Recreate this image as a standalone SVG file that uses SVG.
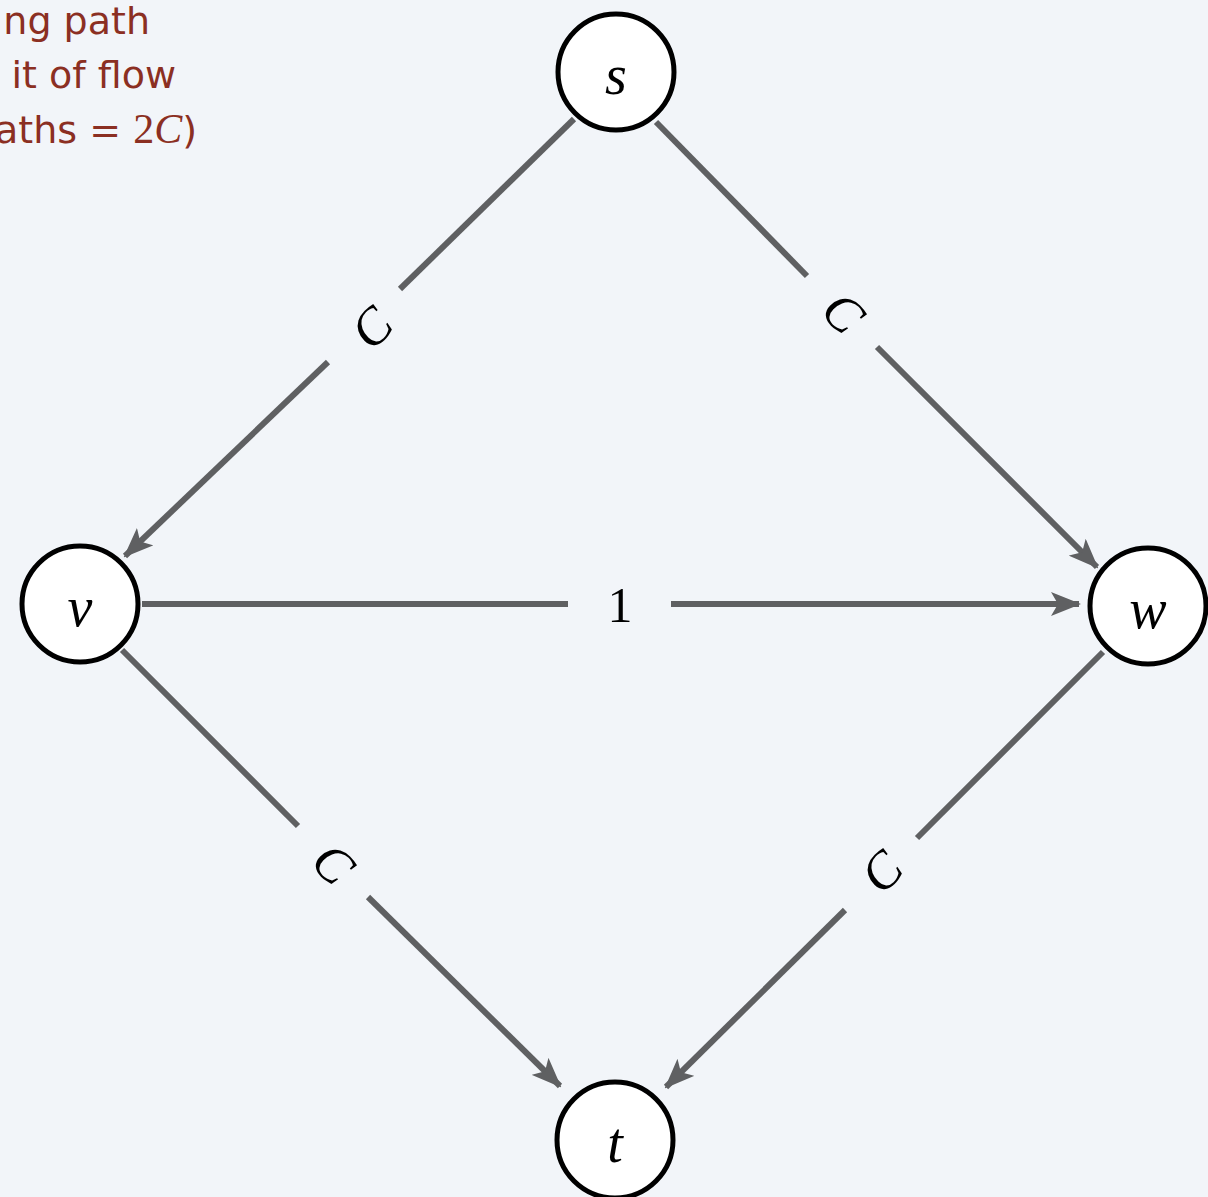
<svg xmlns="http://www.w3.org/2000/svg" width="1208" height="1197" viewBox="0 0 1208 1197">
<defs>
<style>
.edge{stroke:#5f6062;stroke-width:6;fill:none}
.node circle{fill:#ffffff;stroke:#000000;stroke-width:5}
.node text{font-family:"Liberation Serif",serif;font-style:italic;font-size:56px;fill:#000;text-anchor:middle}
.lab{font-family:"Liberation Serif",serif;font-style:italic;font-size:52px;fill:#000;text-anchor:middle}
.one{font-family:"Liberation Serif",serif;font-size:50px;fill:#000;text-anchor:middle}
.note{font-family:"DejaVu Sans","Liberation Sans",sans-serif;font-size:38px;fill:#8b2f22;text-anchor:end}
</style>
<marker id="arr" markerUnits="userSpaceOnUse" markerWidth="30" markerHeight="24" viewBox="0 0 30 24" refX="28" refY="12" orient="auto">
<path d="M0,0 L30,12 L0,24 L7,12 Z" fill="#5f6062"/>
</marker>
</defs>
<rect width="1208" height="1197" fill="#f2f5f9"/>
<g id="note">
<text class="note" x="150" y="34">ng path</text>
<text class="note" x="176" y="88">it of flow</text>
<text class="note" x="197" y="143">aths = <tspan font-family="Liberation Serif,serif" font-size="42">2</tspan><tspan font-family="Liberation Serif,serif" font-size="42" font-style="italic">C</tspan>)</text>
</g>
<g id="connectors">
<line class="edge" x1="574" y1="119" x2="400" y2="289"/>
<line class="edge" x1="328" y1="362" x2="125" y2="556" marker-end="url(#arr)"/>
<line class="edge" x1="656" y1="122" x2="807" y2="276"/>
<line class="edge" x1="877" y1="347" x2="1097" y2="567" marker-end="url(#arr)"/>
<line class="edge" x1="142" y1="604" x2="568" y2="604"/>
<line class="edge" x1="671" y1="604" x2="1079" y2="604" marker-end="url(#arr)"/>
<line class="edge" x1="122" y1="650" x2="298" y2="826"/>
<line class="edge" x1="368" y1="897" x2="560" y2="1086" marker-end="url(#arr)"/>
<line class="edge" x1="1103" y1="652" x2="917" y2="838"/>
<line class="edge" x1="845" y1="910" x2="666" y2="1087" marker-end="url(#arr)"/>
<text class="lab" transform="translate(372,328) rotate(-45)" y="17">C</text>
<text class="lab" transform="translate(843,313) rotate(45)" y="17">C</text>
<text class="one" x="620" y="622">1</text>
<text class="lab" transform="translate(333,864) rotate(45)" y="17">C</text>
<text class="lab" transform="translate(882,872) rotate(-45)" y="17">C</text>
</g>
<g id="node-s" class="node"><circle cx="616" cy="72" r="58"/><text x="616" y="94">s</text></g>
<g id="node-v" class="node"><circle cx="80" cy="604" r="58"/><text x="80" y="626">v</text></g>
<g id="node-w" class="node"><circle cx="1148" cy="606" r="58"/><text x="1148" y="628">w</text></g>
<g id="node-t" class="node"><circle cx="615" cy="1140" r="58"/><text x="615" y="1162">t</text></g>
</svg>
